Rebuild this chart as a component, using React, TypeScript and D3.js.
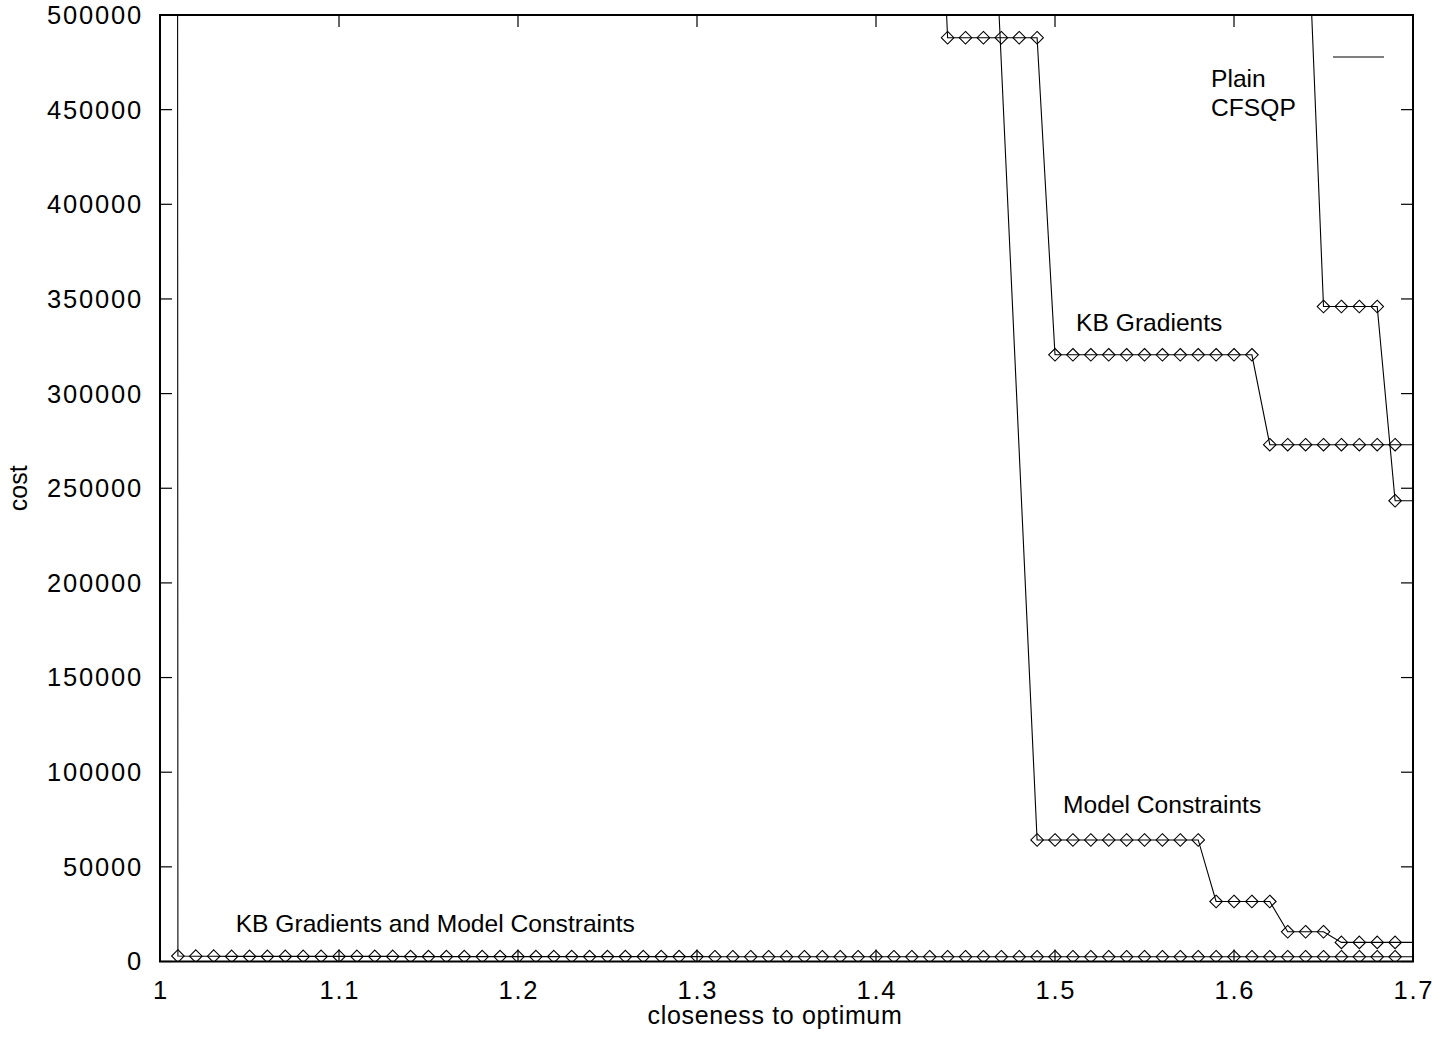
import React from "react";
import * as d3 from "d3";

// closeness to optimum, sampled every 0.01
const closeness = [
  1.0, 1.01, 1.02, 1.03, 1.04, 1.05, 1.06, 1.07, 1.08, 1.09,
  1.1, 1.11, 1.12, 1.13, 1.14, 1.15, 1.16, 1.17, 1.18, 1.19,
  1.2, 1.21, 1.22, 1.23, 1.24, 1.25, 1.26, 1.27, 1.28, 1.29,
  1.3, 1.31, 1.32, 1.33, 1.34, 1.35, 1.36, 1.37, 1.38, 1.39,
  1.4, 1.41, 1.42, 1.43, 1.44, 1.45, 1.46, 1.47, 1.48, 1.49,
  1.5, 1.51, 1.52, 1.53, 1.54, 1.55, 1.56, 1.57, 1.58, 1.59,
  1.6, 1.61, 1.62, 1.63, 1.64, 1.65, 1.66, 1.67, 1.68, 1.69,
  1.7,
];

const N = null;

// KB Gradients and Model Constraints
const kbModelCost = [
  30000000, 2900, 2800, 2800, 2700, 2700, 2700, 2700, 2700, 2700,
  2700, 2700, 2700, 2700, 2600, 2600, 2600, 2600, 2600, 2600,
  2600, 2600, 2600, 2600, 2600, 2600, 2600, 2600, 2600, 2600,
  2600, 2500, 2500, 2500, 2500, 2500, 2500, 2500, 2500, 2500,
  2500, 2500, 2500, 2500, 2500, 2500, 2500, 2500, 2500, 2500,
  2500, 2500, 2500, 2500, 2500, 2500, 2500, 2500, 2500, 2500,
  2500, 2500, 2500, 2500, 2500, 2500, 2500, 2500, 2500, 2500,
  2500,
];

// KB Gradients
const kbGradCost = [
  N, N, N, N, N, N, N, N, N, N,
  N, N, N, N, N, N, N, N, N, N,
  N, N, N, N, N, N, N, N, N, N,
  N, N, N, N, N, N, N, N, N, N,
  N, N, N, 700000, 488000, 488000, 488000, 488000, 488000, 488000,
  320500, 320500, 320500, 320500, 320500, 320500, 320500, 320500, 320500, 320500,
  320500, 320500, 273000, 273000, 273000, 273000, 273000, 273000, 273000, 273000,
  273000,
];

// Model Constraints
const modelCost = [
  N, N, N, N, N, N, N, N, N, N,
  N, N, N, N, N, N, N, N, N, N,
  N, N, N, N, N, N, N, N, N, N,
  N, N, N, N, N, N, N, N, N, N,
  N, N, N, N, N, N, 680000, N, N, 64200,
  64200, 64200, 64200, 64200, 64200, 64200, 64200, 64200, 64200, 31700,
  31700, 31700, 31700, 15700, 15700, 15700, 10100, 10100, 10100, 10100,
  10100,
];

// Plain CFSQP
const plainCost = [
  N, N, N, N, N, N, N, N, N, N,
  N, N, N, N, N, N, N, N, N, N,
  N, N, N, N, N, N, N, N, N, N,
  N, N, N, N, N, N, N, N, N, N,
  N, N, N, N, N, N, N, N, N, N,
  N, N, N, N, N, N, N, N, N, N,
  N, N, N, N, 580000, 346000, 346000, 346000, 346000, 243400,
  243400,
];

const seriesList = [kbModelCost, kbGradCost, modelCost, plainCost];

const xTicks = [1, 1.1, 1.2, 1.3, 1.4, 1.5, 1.6, 1.7];
const xTickLabels = ["1", "1.1", "1.2", "1.3", "1.4", "1.5", "1.6", "1.7"];
const yTicks = [0, 50000, 100000, 150000, 200000, 250000, 300000, 350000, 400000, 450000, 500000];

// in-plot labels, anchored in data coordinates (left edge, baseline)
const labels = [
  { text: "Plain", x: 1.5872, y: 462000 },
  { text: "CFSQP", x: 1.5872, y: 446600 },
  { text: "KB Gradients", x: 1.5118, y: 333000 },
  { text: "Model Constraints", x: 1.5045, y: 78300 },
  { text: "KB Gradients and Model Constraints", x: 1.0423, y: 15400 },
];

export default function App() {
  const W = 1455;
  const H = 1038;
  const left = 160;
  const right = 1413;
  const top = 15;
  const bottom = 961.5;
  const font = "'Liberation Sans', Arial, Helvetica, sans-serif";

  const x = d3.scaleLinear().domain([1, 1.7]).range([left, right]);
  const y = d3.scaleLinear().domain([0, 500000]).range([bottom, top]);

  const line = d3
    .line<[number, number]>()
    .x((d) => x(d[0]))
    .y((d) => y(d[1]));

  const diamond = (cx: number, cy: number) => {
    const r = 6.3;
    return `M${cx},${cy - r}L${cx + r},${cy}L${cx},${cy + r}L${cx - r},${cy}Z`;
  };

  return (
    <svg
      width={W}
      height={H}
      style={{ position: "absolute", left: 0, top: 0, background: "#fff" }}
    >
      <defs>
        <clipPath id="plot">
          <rect x={left} y={top} width={right - left} height={bottom - top} />
        </clipPath>
      </defs>

      {/* data */}
      <g clipPath="url(#plot)">
        {seriesList.map((vals, i) => {
          const pts = closeness
            .map((c, j) => [c, vals[j]] as [number, number | null])
            .filter((p) => p[1] != null) as [number, number][];
          const marks = pts.filter(
            (p) => p[1] <= 500000 && x(p[0]) < right - 2
          );
          return (
            <g key={i}>
              <path d={line(pts) || ""} fill="none" stroke="#000" strokeWidth={1.1} />
              {marks.map((p, k) => (
                <path
                  key={k}
                  d={diamond(x(p[0]), y(p[1]))}
                  fill="none"
                  stroke="#000"
                  strokeWidth={1.1}
                />
              ))}
            </g>
          );
        })}
      </g>

      {/* ticks, mirrored on all four sides */}
      <g stroke="#000" strokeWidth={1.2}>
        {yTicks.map((t) => (
          <g key={"y" + t}>
            <line x1={left} x2={left + 12} y1={y(t)} y2={y(t)} />
            <line x1={right} x2={right - 12} y1={y(t)} y2={y(t)} />
          </g>
        ))}
        {xTicks.map((t) => (
          <g key={"x" + t}>
            <line x1={x(t)} x2={x(t)} y1={bottom} y2={bottom - 12} />
            <line x1={x(t)} x2={x(t)} y1={top} y2={top + 12} />
          </g>
        ))}
      </g>

      <rect
        x={left}
        y={top}
        width={right - left}
        height={bottom - top}
        fill="none"
        stroke="#000"
        strokeWidth={2}
      />

      <g fontFamily={font} fill="#000">
        <g fontSize={25.5} letterSpacing={1.8}>
          {yTicks.map((t) => (
            <text key={"yl" + t} x={left - 17} y={y(t)} dy="0.35em" textAnchor="end">
              {t}
            </text>
          ))}
          {xTicks.map((t, i) => (
            <text key={"xl" + t} x={x(t) + 0.9} y={999} textAnchor="middle">
              {xTickLabels[i]}
            </text>
          ))}
        </g>
        <g fontSize={25}>
          <text x={775} y={1024} textAnchor="middle" letterSpacing={0.65}>
            closeness to optimum
          </text>
          <text transform={`translate(27, ${(top + bottom) / 2}) rotate(-90)`} textAnchor="middle">
            cost
          </text>
          {labels.map((l) => (
            <text key={l.text} x={x(l.x)} y={y(l.y)} fontSize={24.6}>
              {l.text}
            </text>
          ))}
        </g>
      </g>

      {/* key sample */}
      <line x1={1333} x2={1384} y1={57} y2={57} stroke="#000" strokeWidth={1.1} />
    </svg>
  );
}
